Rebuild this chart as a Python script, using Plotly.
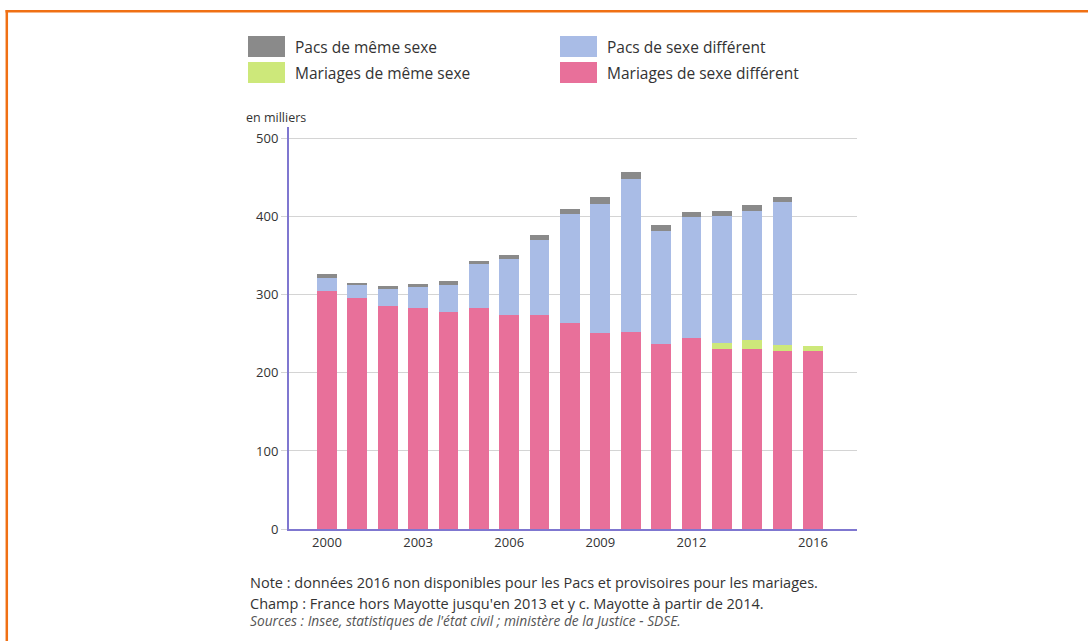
import plotly.graph_objects as go

years = list(range(2000, 2017))
mariages_diff = [304.5, 296, 286, 283, 278, 283, 274, 274, 264, 251, 252, 237, 245, 231, 231, 228.5, 228]
mariages_meme = [0, 0, 0, 0, 0, 0, 0, 0, 0, 0, 0, 0, 0, 7.4, 10.5, 7.8, 7]
pacs_diff = [17, 16, 22, 27, 35, 56, 72, 96, 139, 166, 196, 145, 154.5, 163, 166.5, 182, 0]
pacs_meme = [5.4, 3.3, 3.0, 3.9, 5.0, 4.9, 5.1, 6.2, 7, 8.3, 9.1, 7.5, 7.0, 6.0, 6.5, 7.0, 0]
x_ticks = [2000, 2003, 2006, 2009, 2012, 2016]
y_ticks = [0, 100, 200, 300, 400, 500]

series = [
    ("Mariages de sexe différent", mariages_diff, "#e8709a"),
    ("Mariages de même sexe", mariages_meme, "#cde87a"),
    ("Pacs de sexe différent", pacs_diff, "#a9bce6"),
    ("Pacs de même sexe", pacs_meme, "#8a8a8a"),
]

FONT = "Open Sans"
fig = go.Figure()
for name, vals, col in series:
    fig.add_trace(go.Bar(x=years, y=vals, name=name, marker=dict(color=col, line=dict(width=0)),
                         showlegend=False))

W, H = 1088, 641
L, R, T, B = 289, 857, 127, 529

fig.update_layout(
    width=W, height=H, autosize=False,
    barmode="stack", bargap=0.35,
    margin=dict(l=L, r=W - R, t=T, b=H - B, pad=0),
    paper_bgcolor="white", plot_bgcolor="white",
    font=dict(family=FONT, size=13, color="#333333"),
    xaxis=dict(range=[1998.75, 2017.45], tickvals=x_ticks, ticktext=[str(v) for v in x_ticks],
               showgrid=False, showline=True, linecolor="#7f77d0", linewidth=2,
               ticks="", tickfont=dict(size=13, color="#333333"), zeroline=False),
    yaxis=dict(range=[0, 515], tickvals=y_ticks, showgrid=True, gridcolor="#d4d4d4", gridwidth=1,
               showline=True, linecolor="#7f77d0", linewidth=2, ticks="outside", ticklen=6,
               tickcolor="#d4d4d4", tickfont=dict(size=13, color="#333333"), zeroline=False),
)

# paper coordinates are relative to the plot area
def px2x(px):
    return (px - L) / (R - L)

def py2y(py):
    return (B - py) / (B - T)

shapes = []
annotations = []

# orange frame
shapes.append(dict(type="line", xref="paper", yref="paper", x0=px2x(5.5), x1=px2x(1100),
                   y0=py2y(11.3), y1=py2y(11.3), line=dict(color="#f07014", width=2.5)))
shapes.append(dict(type="line", xref="paper", yref="paper", x0=px2x(6.8), x1=px2x(6.8),
                   y0=py2y(10), y1=py2y(660), line=dict(color="#f07014", width=2.5)))

legend_items = [
    ("Pacs de même sexe", "#8a8a8a", 248, 36),
    ("Mariages de même sexe", "#cde87a", 248, 62),
    ("Pacs de sexe différent", "#a9bce6", 560, 36),
    ("Mariages de sexe différent", "#e8709a", 560, 62),
]
for name, col, x0, y0 in legend_items:
    shapes.append(dict(type="rect", xref="paper", yref="paper", x0=px2x(x0), x1=px2x(x0 + 37),
                       y0=py2y(y0), y1=py2y(y0 + 21), fillcolor=col, line=dict(width=0)))
    annotations.append(dict(xref="paper", yref="paper", x=px2x(x0 + 45), y=py2y(y0 + 11),
                            text=name, showarrow=False, xanchor="left", yanchor="middle",
                            font=dict(family=FONT, size=15.5, color="#333333")))

annotations.append(dict(xref="paper", yref="paper", x=px2x(244), y=py2y(117), text="en milliers",
                        showarrow=False, xanchor="left", yanchor="middle",
                        font=dict(family=FONT, size=12.5, color="#333333")))

notes = [
    ("Note : données 2016 non disponibles pour les Pacs et provisoires pour les mariages.", 582, False),
    ("Champ : France hors Mayotte jusqu'en 2013 et y c. Mayotte à partir de 2014.", 603, False),
    ("<i>Sources : Insee, statistiques de l'état civil ; ministère de la Justice - SDSE.</i>", 620, True),
]
for txt, y, it in notes:
    annotations.append(dict(xref="paper", yref="paper", x=px2x(248), y=py2y(y), text=txt,
                            showarrow=False, xanchor="left", yanchor="middle",
                            font=dict(family=FONT, size=13.75 if it else 14.5,
                                      color="#555555" if it else "#333333")))

fig.update_layout(shapes=shapes, annotations=annotations)
fig.write_html("out.html", config={"displayModeBar": False},
               post_script="document.body.style.margin='0px';")
